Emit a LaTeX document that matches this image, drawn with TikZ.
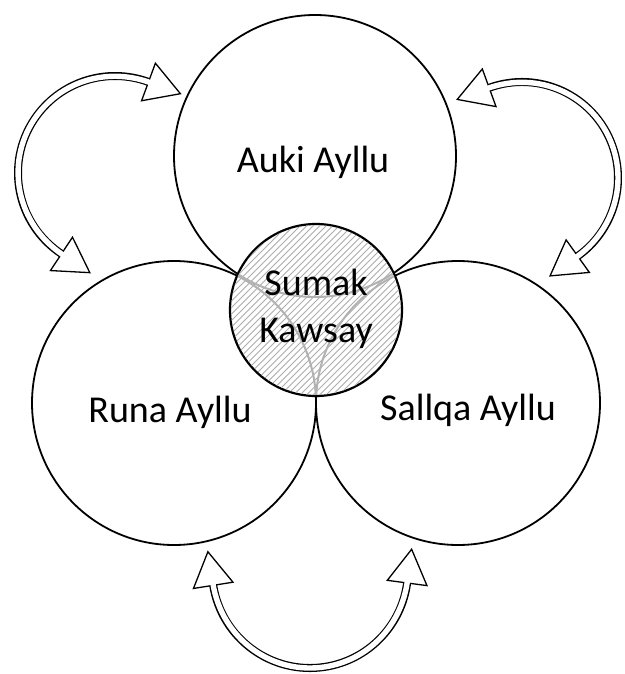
\documentclass[tikz,border=0pt]{standalone}
\usepackage{fontspec}
\setmainfont{Carlito}
\usetikzlibrary{decorations.markings,calc}
\begin{document}
\begin{tikzpicture}[x=1pt,y=-1pt,
  ring/.style={circle, draw=black, line width=1.8pt, inner sep=0pt},
  core/.style={circle, draw=black, fill=white, line width=2.2pt, inner sep=0pt, minimum size=172pt},
  lbl/.style={font=\fontsize{38pt}{47pt}\selectfont, inner sep=0pt},
  hatch/.style={draw=black!32, line width=0.75pt},
  ghost/.style={draw=black!30, line width=2pt},
  headtri/.style={fill=white, draw=black, line width=1.3pt, line join=miter},
  hollowarrow/.style={line width=8pt, draw=black,
    preaction={decorate, decoration={markings,
      mark=at position 0 with {\filldraw[headtri] (0,-20) -- (-34,0) -- (0,20) -- cycle;},
      mark=at position 1 with {\filldraw[headtri] (0,-20) -- (34,0) -- (0,20) -- cycle;}}},
    postaction={draw=white, line width=5.4pt, shorten >=-2pt, shorten <=-2pt}}]
\useasboundingbox (0,0) rectangle (624,674);

% big circles
\node[ring, minimum size=282pt] (auki) at (315,156) {};
\node[ring, minimum size=284pt] (runa) at (174,403) {};
\node[ring, minimum size=284pt] (sallqa) at (458,403) {};

% central circle
\node[core] (sk) at (316,310) {};
\begin{scope}
  \clip (sk.center) circle[radius=85];
  \foreach \d in {-126,-119.5,...,126}
    \draw[hatch] ($(sk.center)+(\d-95,95)$) -- ($(sk.center)+(\d+95,-95)$);
  \draw[ghost] (auki.center) circle[radius=141];
  \draw[ghost] (runa.center) circle[radius=142];
  \draw[ghost] (sallqa.center) circle[radius=142];
\end{scope}

% labels
\node[lbl, anchor=base] (aukit) at (313,172) {Auki Ayllu};
\node[lbl, anchor=base] (runat) at (170,422) {Runa Ayllu};
\node[lbl, anchor=base] (sallqat) at (468,420) {Sallqa Ayllu};
\node[lbl, align=center] (skt) at (316,309) {Sumak\\Kawsay};

% arrows
\coordinate (lc) at (115,173);
\coordinate (rc) at (522,178);
\coordinate (bc) at (310,570);
\draw[hollowarrow] ($(lc)+(123.5:97)$) arc[start angle=123.5, end angle=290.2, radius=97];
\draw[hollowarrow] ($(rc)+(-110:96)$) arc[start angle=-110, end angle=54.5, radius=96];
\draw[hollowarrow] ($(bc)+(171:98)$) arc[start angle=171, end angle=7.6, radius=98];
\end{tikzpicture}
\end{document}
